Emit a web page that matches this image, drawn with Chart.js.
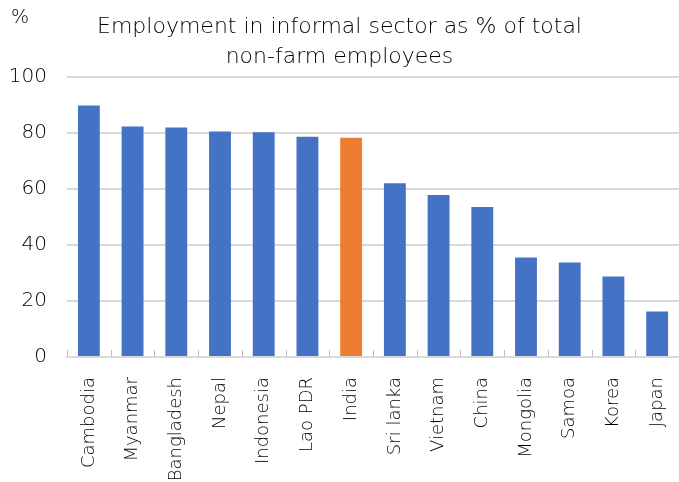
<!DOCTYPE html>
<html>
<head>
<meta charset="utf-8">
<script src="https://cdn.jsdelivr.net/npm/chart.js@4"></script>
<style>
  html, body { margin: 0; padding: 0; background: #fff; }
  #wrap { position: relative; width: 679px; height: 482px; }
</style>
</head>
<body>
<div id="wrap"><canvas id="chart"></canvas></div>
<script>
// data
const countries = ["Cambodia", "Myanmar", "Bangladesh", "Nepal", "Indonesia", "Lao PDR", "India",
                   "Sri lanka", "Vietnam", "China", "Mongolia", "Samoa", "Korea", "Japan"];
const informalShare = [89.8, 82.3, 81.9, 80.5, 80.2, 78.6, 78.3, 62.0, 57.8, 53.5, 35.5, 33.7, 28.7, 16.2];
const highlight = "India";
const yTicks = [0, 20, 40, 60, 80, 100];
const titleLines = ["Employment in informal sector as % of total", "non-farm employees"];
const unitLabel = "%";

const BLUE = "#4472C4";
const ORANGE = "#ED7D31";
const FONT = "'DejaVu Sans', sans-serif";
const WEIGHT = "200";
const TEXT = "#000000";

const barColors = countries.map(c => c === highlight ? ORANGE : BLUE);

// small tick marks inside the plot, between the categories (like the excel original)
const innerTicks = {
    id: "innerTicks",
    afterDatasetsDraw(chart) {
        const x = chart.scales.x, y = chart.scales.y;
        const ctx = chart.ctx;
        const base = y.getPixelForValue(0);
        const step = x.getPixelForValue(1) - x.getPixelForValue(0);
        ctx.save();
        ctx.strokeStyle = "#bfbfbf";
        ctx.lineWidth = 1;
        for (let i = 0; i <= countries.length; i++) {
            const px = Math.round(x.getPixelForValue(i) - step / 2) + 0.5;
            ctx.beginPath();
            ctx.moveTo(px, base);
            ctx.lineTo(px, base - 7);
            ctx.stroke();
        }
        ctx.restore();
    }
};

const unitText = {
    id: "unitText",
    afterDraw(chart) {
        const ctx = chart.ctx;
        ctx.save();
        ctx.font = WEIGHT + " 19px " + FONT;
        ctx.fillStyle = TEXT;
        ctx.textBaseline = "top";
        ctx.fillText(unitLabel, 11, 9);
        ctx.restore();
    }
};

new Chart(document.getElementById("chart"), {
    type: "bar",
    data: {
        labels: countries,
        datasets: [{
            data: informalShare,
            backgroundColor: barColors,
            borderWidth: 0,
            barPercentage: 0.5,
            categoryPercentage: 1.0
        }]
    },
    plugins: [innerTicks, unitText],
    options: {
        responsive: true,
        maintainAspectRatio: false,
        animation: false,
        layout: { padding: { top: 4, right: 0, left: 0, bottom: 0 } },
        plugins: {
            legend: { display: false },
            tooltip: { enabled: false },
            title: {
                display: true,
                text: titleLines,
                color: TEXT,
                font: { family: FONT, size: 22, weight: WEIGHT, lineHeight: 1.36 },
                padding: { top: 8, bottom: 5 }
            }
        },
        scales: {
            x: {
                grid: { display: false },
                border: { display: true, color: "#d9d9d9", width: 2 },
                afterFit(scale) {
                    scale.height = 125;
                    scale.paddingRight = 0;
                    scale.paddingLeft = 0;
                },
                ticks: {
                    color: TEXT,
                    font: { family: FONT, size: 18, weight: WEIGHT },
                    minRotation: 90,
                    maxRotation: 90,
                    autoSkip: false,
                    padding: 12
                }
            },
            y: {
                min: 0,
                max: 100,
                afterBuildTicks(scale) { scale.ticks = yTicks.map(v => ({ value: v })); },
                afterFit(scale) { scale.width = 67; },
                grid: { color: "#d9d9d9", lineWidth: 2, drawTicks: false },
                border: { display: false },
                ticks: {
                    color: TEXT,
                    font: { family: FONT, size: 20, weight: WEIGHT },
                    padding: 20
                }
            }
        }
    }
});
</script>
</body>
</html>
